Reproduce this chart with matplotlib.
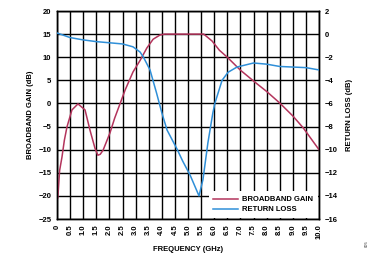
import numpy as np
import matplotlib
matplotlib.use("Agg")
from matplotlib import pyplot as plt

plt.rcParams['font.family'] = ['Liberation Sans', 'DejaVu Sans']
plt.rcParams['font.weight'] = 'bold'

# broadband gain (left axis, dB)
gain_f = [0, 0.03, 0.1, 0.19, 0.28, 0.38, 0.57, 0.8, 1.07, 1.26, 1.45, 1.56, 1.65, 1.76,
          2.02, 2.2, 2.6, 2.9, 3.17, 3.43, 3.67, 3.93, 4.1, 5.6, 5.92, 6.2, 6.5, 7.0,
          7.6, 8.0, 8.5, 9.0, 9.4, 10.0]
gain = [-16, -20.5, -14.5, -11.6, -8, -5.1, -1.4, -0.1, -1.4, -5.8, -9.7, -11.2, -11, -10.1,
        -6.4, -3.2, 2.9, 6.8, 9.3, 12.0, 13.9, 14.8, 15, 15, 13.5, 11.5, 10, 7.2,
        4.4, 2.6, 0.1, -2.7, -5.3, -10]

# return loss (right axis, dB)
rl_f = [0, 0.5, 1.0, 1.5, 2.0, 2.5, 2.9, 3.17, 3.3, 3.55, 3.8, 4.0, 4.2, 4.57, 4.8,
        5.08, 5.25, 5.42, 5.57, 5.76, 5.95, 6.03, 6.3, 6.53, 6.87, 7.5, 8.0, 8.5,
        9.0, 9.5, 10.0]
rl = [0.1, -0.3, -0.5, -0.65, -0.75, -0.85, -1.1, -1.55, -2.0, -3.1, -5.1, -6.8, -8.3,
      -9.9, -11.0, -12.2, -13.1, -14.0, -12.6, -9.4, -6.8, -5.96, -4.0, -3.3, -2.85,
      -2.5, -2.6, -2.8, -2.85, -2.9, -3.1]

x_ticks = np.arange(0, 10.01, 0.5)
x_labels = ['0'] + ['%.1f' % v for v in x_ticks[1:]]
left_ticks = np.arange(-25, 21, 5)
right_ticks = np.arange(-16, 3, 2)

red = '#b3345c'
blue = '#2f8fd8'
fs = 5.5

fig = plt.figure(figsize=(3.77, 2.62), dpi=100)
ax = fig.add_axes([57 / 377, 1 - 219 / 262, 262 / 377, 208 / 262])
ax2 = ax.twinx()

l1, = ax.plot(gain_f, gain, color=red, lw=1.1, zorder=3)
l2, = ax2.plot(rl_f, rl, color=blue, lw=1.1, zorder=3)

ax.set_xlim(0, 10)
ax.set_ylim(-25, 20)
ax2.set_ylim(-16, 2)
ax.set_xticks(x_ticks)
ax.set_xticklabels(x_labels, rotation=90, fontsize=fs, fontweight='bold')
ax.set_yticks(left_ticks)
ax.set_yticklabels([str(v).replace('-', '\u2212') for v in left_ticks], fontsize=fs, fontweight='bold')
ax2.set_yticks(right_ticks)
ax2.set_yticklabels([str(v).replace('-', '\u2212') for v in right_ticks], fontsize=fs, fontweight='bold')
ax.tick_params(length=0, pad=4)
ax2.tick_params(length=0, pad=4)

ax.grid(True, color='black', lw=1.0)
for a in (ax, ax2):
    for s in a.spines.values():
        s.set_linewidth(1.0)
        s.set_color('black')

ax.set_xlabel('FREQUENCY (GHz)', fontsize=fs, fontweight='bold', labelpad=5)
ax.set_ylabel('BROADBAND GAIN (dB)', fontsize=fs, fontweight='bold', labelpad=3)
ax2.set_ylabel('RETURN LOSS (dB)', fontsize=fs, fontweight='bold', rotation=90,
               labelpad=6, va='top')

leg = ax2.legend([l1, l2], ['BROADBAND GAIN', 'RETURN LOSS'], loc='lower right',
                 bbox_to_anchor=(1, 0), borderaxespad=0.15, fontsize=fs, frameon=True,
                 fancybox=False, framealpha=1, edgecolor='white', handlelength=3.2,
                 borderpad=0.6, labelspacing=0.35, handletextpad=0.6)
leg.get_frame().set_linewidth(0)

fig.text(367 / 377, 1 - 244 / 262, '005', fontsize=3, color='#777777', rotation=90,
         ha='center', va='center')

fig.savefig('out.png', dpi=100)
